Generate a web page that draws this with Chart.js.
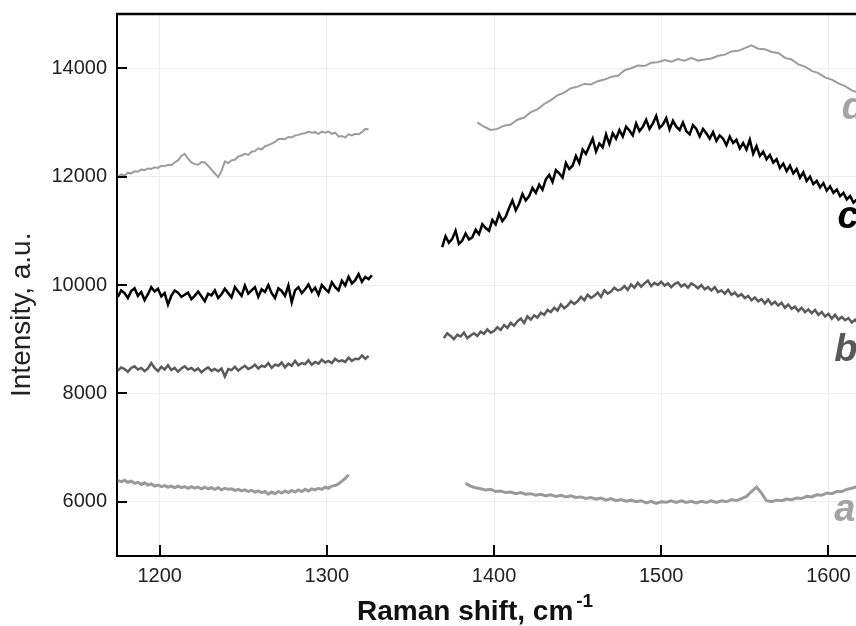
<!DOCTYPE html>
<html>
<head>
<meta charset="utf-8">
<script src="https://cdn.jsdelivr.net/npm/chart.js@4/dist/chart.umd.min.js"></script>
<style>
  html, body { margin: 0; padding: 0; background: #fff; overflow: hidden; width: 856px; height: 626px; }
  #wrap { width: 920px; height: 626px; }
</style>
</head>
<body>
<div id="wrap"><canvas id="spectra" width="920" height="626"></canvas></div>
<script>
// Tick values
const shiftTicks = [1200, 1300, 1400, 1500, 1600];
const intensityTicks = [6000, 8000, 10000, 12000, 14000];

// Series names, drawn as letters at the right end of each trace
const seriesNames = ['a', 'b', 'c', 'd'];

// Every spectrum was recorded in two windows (low and high shift).
// First shift value and spacing of each window, in cm-1.
const aLowFrom = 1175, aLowStep = 2;
const aHighFrom = 1383, aHighStep = 3;
const bLowFrom = 1175, bLowStep = 2;
const bHighFrom = 1370, bHighStep = 2;
const cLowFrom = 1175, cLowStep = 2;
const cHighFrom = 1369, cHighStep = 2;
const dLowFrom = 1175, dLowStep = 2;
const dHighFrom = 1390, dHighStep = 4;

// Intensities, a.u.
const aLow = [6390,6370,6400,6360,6380,6340,6360,6320,6350,6310,6330,6290,6310,6280,6300,6270,6290,6260,6290,6260,
  6280,6250,6280,6250,6270,6240,6270,6240,6260,6230,6260,6220,6250,6230,6240,6210,6230,6200,6220,6190,
  6210,6180,6200,6170,6190,6140,6180,6150,6190,6160,6200,6170,6210,6180,6220,6190,6230,6200,6240,6220,
  6250,6230,6270,6250,6290,6300,6330,6380,6430,6500];
const aHigh = [6340,6290,6260,6240,6220,6230,6190,6200,6170,6180,6150,6170,6140,6150,6120,6140,6110,6130,6100,6120,
  6090,6110,6080,6090,6060,6080,6050,6070,6030,6060,6020,6040,6010,6030,6000,6020,5980,6010,5970,6000,
  5990,6020,5990,6020,5990,6010,5980,6010,5990,6020,5990,6020,6000,6040,6020,6060,6100,6190,6270,6160,
  6020,6000,6030,6020,6050,6040,6070,6060,6100,6090,6130,6120,6160,6150,6190,6190,6230,6250,6280,6300];

const bLow = [8420,8480,8450,8400,8470,8500,8440,8470,8410,8460,8560,8470,8410,8490,8440,8520,8430,8470,8400,8460,
  8500,8440,8470,8420,8460,8390,8440,8480,8420,8450,8410,8460,8310,8450,8430,8490,8420,8470,8510,8450,
  8480,8530,8460,8510,8490,8560,8470,8530,8510,8570,8480,8550,8510,8600,8520,8560,8540,8610,8530,8580,
  8550,8620,8570,8600,8560,8640,8590,8610,8580,8660,8600,8640,8630,8700,8640,8690];
const bHigh = [9020,9110,9060,9000,9080,9050,9120,9020,9070,9110,
  9060,9140,9100,9180,9120,9150,9220,9170,9260,9210,
  9300,9250,9330,9380,9300,9420,9360,9440,9400,9490,
  9450,9540,9500,9580,9530,9640,9570,9620,9700,9650,
  9700,9780,9720,9820,9760,9800,9860,9780,9900,9840,
  9880,9950,9900,9920,9980,9910,10010,9950,10040,9970,
  10030,10080,9980,10040,10000,10060,9990,10030,9960,10020,
  10050,9970,10010,9950,10030,9990,9940,10000,9920,9960,
  9900,9960,9870,9900,9840,9910,9820,9860,9790,9830,
  9760,9800,9720,9770,9700,9740,9660,9730,9640,9690,
  9620,9670,9580,9640,9560,9600,9520,9580,9500,9550,
  9480,9540,9450,9500,9420,9470,9380,9450,9360,9410,
  9350,9390,9310,9360,9290,9330,9280];

const cLow = [9780,9900,9850,9760,9890,9940,9800,9870,9720,9830,9960,9880,9930,9790,9850,9640,9800,9900,9860,9780,
  9820,9860,9740,9800,9880,9790,9700,9840,9810,9900,9760,9830,9930,9850,9770,9960,9880,9800,9990,9840,
  9900,9960,9780,9920,9870,10000,9850,9760,9940,9890,9800,9990,9680,9900,9960,9850,9920,10010,9880,9950,
  9820,10000,9930,9870,10050,9960,9900,10080,9990,10150,10030,10090,10200,10060,10150,10110,10180];
const cHigh = [10700,10900,10780,10850,11000,10760,10820,10950,10840,10880,
  11020,10940,11120,11050,11000,11200,11120,11310,11180,11260,
  11420,11560,11380,11500,11680,11560,11640,11790,11700,11850,
  11760,11950,12030,11900,12120,12060,11980,12250,12140,12200,
  12380,12250,12500,12420,12560,12700,12460,12610,12540,12780,
  12600,12800,12700,12860,12740,12920,12850,12760,12980,12840,
  12920,13050,12880,12980,13120,12900,12960,13080,12870,13030,
  12920,12860,13000,12840,12780,12950,12880,12740,12880,12800,
  12700,12820,12660,12760,12700,12580,12740,12620,12680,12520,
  12620,12500,12680,12420,12560,12380,12460,12320,12400,12260,
  12320,12160,12240,12100,12200,12060,12140,11980,12080,11920,
  12000,11860,11920,11800,11880,11740,11820,11700,11760,11640,
  11700,11580,11640,11520,11580,11480,11520];

const dLow = [12000,12040,12020,12070,12060,12100,12090,12130,12120,12150,12140,12170,12160,12200,12190,12220,12210,12260,12300,12380,
  12420,12330,12260,12230,12220,12270,12260,12200,12130,12060,11990,12100,12280,12250,12300,12310,12370,12390,12420,12400,
  12460,12470,12520,12500,12560,12580,12610,12640,12690,12700,12690,12730,12720,12760,12770,12790,12800,12830,12810,12820,
  12790,12830,12810,12830,12790,12810,12740,12750,12720,12780,12760,12790,12780,12820,12880,12870];
const dHigh = [13000,12920,12860,12880,12940,12960,13050,13090,13190,13240,13340,13410,13500,13550,13630,13660,13710,13700,13760,13790,
  13840,13860,13960,14000,14050,14040,14100,14110,14150,14120,14170,14140,14190,14140,14160,14180,14230,14250,14310,14320,
  14370,14420,14360,14350,14300,14280,14190,14160,14070,14030,13950,13910,13830,13790,13720,13670,13590,13550,13480];

// Uniformly sampled window -> {x, y} points
function windowPoints(from, step, values) {
  return values.map((y, i) => ({ x: from + i * step, y: y }));
}

const traceStyle = {
  a: { color: '#9a9a9a', width: 3 },
  b: { color: '#5a5a5a', width: 2.5 },
  c: { color: '#000000', width: 2.5 },
  d: { color: '#9c9c9c', width: 2 }
};

function traceDatasets(name, low, high) {
  const s = traceStyle[name];
  return [low, high].map((pts) => ({
    label: name,
    data: pts,
    borderColor: s.color,
    borderWidth: s.width,
    pointRadius: 0,
    tension: 0,
    fill: false
  }));
}

const datasets = [
  ...traceDatasets('a', windowPoints(aLowFrom, aLowStep, aLow), windowPoints(aHighFrom, aHighStep, aHigh)),
  ...traceDatasets('b', windowPoints(bLowFrom, bLowStep, bLow), windowPoints(bHighFrom, bHighStep, bHigh)),
  ...traceDatasets('c', windowPoints(cLowFrom, cLowStep, cLow), windowPoints(cHighFrom, cHighStep, cHigh)),
  ...traceDatasets('d', windowPoints(dLowFrom, dLowStep, dLow), windowPoints(dHighFrom, dHighStep, dHigh))
];

// Frame, inward ticks, axis titles and the trace letters
const decorations = {
  id: 'decorations',
  afterDraw(chart) {
    const ctx = chart.ctx;
    const area = chart.chartArea;
    const xs = chart.scales.x, ys = chart.scales.y;
    ctx.save();
    ctx.strokeStyle = '#000';
    ctx.lineWidth = 2.5;
    ctx.beginPath();
    ctx.moveTo(area.left - 1, area.top);
    ctx.lineTo(area.right + 40, area.top);
    ctx.stroke();

    ctx.lineWidth = 2;
    ctx.beginPath();
    shiftTicks.forEach((v) => {
      const px = Math.round(xs.getPixelForValue(v));
      ctx.moveTo(px, area.bottom);
      ctx.lineTo(px, area.bottom - 11);
    });
    intensityTicks.forEach((v) => {
      const py = Math.round(ys.getPixelForValue(v));
      ctx.moveTo(area.left, py);
      ctx.lineTo(area.left + 10, py);
    });
    ctx.stroke();

    // x title with superscript
    ctx.fillStyle = '#111';
    ctx.textBaseline = 'alphabetic';
    ctx.textAlign = 'left';
    ctx.font = 'bold 28px "Liberation Sans", Arial, sans-serif';
    const main = 'Raman shift, cm';
    const tx = 357, ty = 620;
    ctx.fillText(main, tx, ty);
    const w = ctx.measureText(main).width;
    ctx.font = 'bold 19px "Liberation Sans", Arial, sans-serif';
    ctx.fillText('-1', tx + w + 3, ty - 13);

    // y title
    ctx.save();
    ctx.translate(30, 397);
    ctx.rotate(-Math.PI / 2);
    ctx.font = '28px "Liberation Sans", Arial, sans-serif';
    ctx.fillStyle = '#222';
    ctx.fillText('Intensity, a.u.', 0, 0);
    ctx.restore();

    // trace letters
    const letterAt = { a: [1603.5, 5650], b: [1603.5, 8600], c: [1605.5, 11060], d: [1608, 13070] };
    ctx.font = 'italic bold 38px "Liberation Sans", Arial, sans-serif';
    seriesNames.forEach((n) => {
      const [vx, vy] = letterAt[n];
      ctx.fillStyle = n === 'c' ? '#000' : (n === 'b' ? '#585858' : '#a3a3a3');
      ctx.fillText(n, xs.getPixelForValue(vx), ys.getPixelForValue(vy));
    });
    ctx.restore();
  }
};

new Chart(document.getElementById('spectra'), {
  type: 'line',
  data: { datasets: datasets },
  options: {
    responsive: false,
    animation: false,
    layout: { padding: { top: 14, right: 8, left: 0, bottom: 0 } },
    plugins: { legend: { display: false }, tooltip: { enabled: false } },
    scales: {
      x: {
        type: 'linear',
        min: 1174.5,
        max: 1650,
        afterFit(scale) { scale.height = 70; scale.paddingLeft = 0; scale.paddingRight = 0; },
        afterBuildTicks(scale) { scale.ticks = shiftTicks.map((v) => ({ value: v })); },
        ticks: {
          padding: 8,
          color: '#222',
          font: { family: '"Liberation Sans", Arial, sans-serif', size: 20 },
          callback: (v) => String(v)
        },
        grid: { color: '#ededed', lineWidth: 1, drawTicks: false },
        border: { display: true, color: '#000', width: 2 }
      },
      y: {
        type: 'linear',
        min: 5000,
        max: 15000,
        afterFit(scale) { scale.width = 117; scale.paddingTop = 0; scale.paddingBottom = 0; },
        afterBuildTicks(scale) { scale.ticks = intensityTicks.map((v) => ({ value: v })); },
        ticks: {
          padding: 10,
          color: '#222',
          font: { family: '"Liberation Sans", Arial, sans-serif', size: 20 },
          callback: (v) => String(v)
        },
        grid: { color: '#ededed', lineWidth: 1, drawTicks: false },
        border: { display: true, color: '#000', width: 2 }
      }
    }
  },
  plugins: [decorations]
});
</script>
</body>
</html>
